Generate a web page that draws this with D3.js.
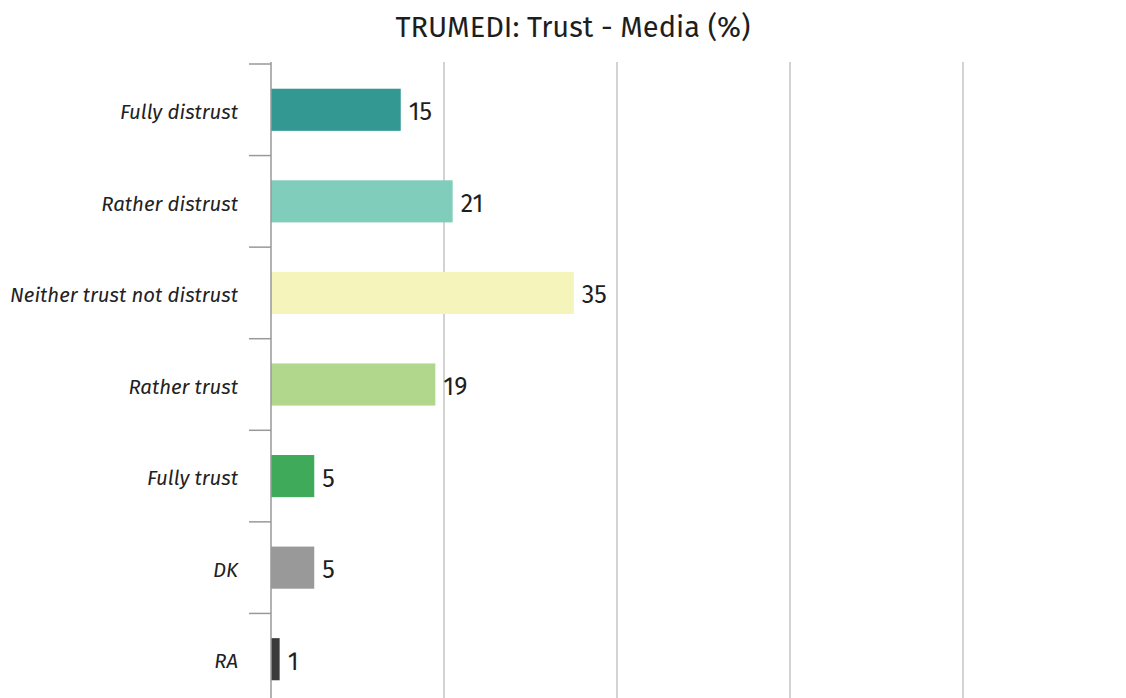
<!DOCTYPE html>
<html>
<head>
<meta charset="utf-8">
<script src="https://cdn.jsdelivr.net/npm/d3@7"></script>
<style>
  html, body { margin: 0; padding: 0; background: #fff; }
  svg { display: block; font-family: "Fira Sans", "Noto Sans", "Open Sans", sans-serif; }
</style>
</head>
<body>
<svg id="chart" width="1126" height="698"></svg>
<script>
// Survey answers and their shares (%)
const categories = ["Fully distrust", "Rather distrust", "Neither trust not distrust", "Rather trust", "Fully trust", "DK", "RA"];
const values = [15, 21, 35, 19, 5, 5, 1];
const colors = ["#339891", "#80cdbb", "#f4f4bb", "#b1d78d", "#3fab5a", "#999999", "#3a3a3a"];
const gridTicks = [20, 40, 60, 80, 100];
const title = "TRUMEDI: Trust - Media (%)";

const svg = d3.select("#chart");
const W = 1126, H = 698;

const x = d3.scaleLinear().domain([0, 100]).range([271, 1136]);
const y = d3.scaleBand().domain(categories).range([64, 705]).paddingInner(0.54).paddingOuter(0.27);

// Title
svg.append("text")
  .attr("x", 573).attr("y", 37)
  .attr("text-anchor", "middle")
  .attr("font-size", 29)
  .attr("fill", "#1e1e1e")
  .text(title);

// Vertical gridlines
svg.append("g")
  .selectAll("line")
  .data(gridTicks)
  .join("line")
  .attr("x1", d => x(d)).attr("x2", d => x(d))
  .attr("y1", 62).attr("y2", H)
  .attr("stroke", "#c4c4c4")
  .attr("stroke-width", 1.5);

// Bars
svg.append("g")
  .selectAll("rect")
  .data(categories)
  .join("rect")
  .attr("x", x(0))
  .attr("y", d => y(d))
  .attr("width", (d, i) => x(values[i]) - x(0))
  .attr("height", y.bandwidth())
  .attr("fill", (d, i) => colors[i]);

// Value labels
svg.append("g")
  .selectAll("text")
  .data(categories)
  .join("text")
  .attr("x", (d, i) => x(values[i]) + 8)
  .attr("y", d => y(d) + y.bandwidth() / 2)
  .attr("dy", "0.42em")
  .attr("font-size", 25)
  .attr("fill", "#1e1e1e")
  .text((d, i) => values[i]);

// Category axis with ticks on band boundaries
const step = y.step();
const bandTop = d => y(d) - y.paddingOuter() * step;
const axisG = svg.append("g");
axisG.append("line")
  .attr("x1", x(0)).attr("x2", x(0))
  .attr("y1", 62).attr("y2", H)
  .attr("stroke", "#999").attr("stroke-width", 1.5);
axisG.selectAll("line.tick")
  .data(categories)
  .join("line")
  .attr("class", "tick")
  .attr("x1", x(0) - 22).attr("x2", x(0))
  .attr("y1", d => Math.max(62, bandTop(d))).attr("y2", d => Math.max(62, bandTop(d)))
  .attr("stroke", "#999").attr("stroke-width", 1.5);
axisG.selectAll("text")
  .data(categories)
  .join("text")
  .attr("x", 238)
  .attr("y", d => y(d) + y.bandwidth() / 2)
  .attr("dy", "0.45em")
  .attr("text-anchor", "end")
  .attr("font-size", 20.4)
  .attr("font-style", "italic")
  .attr("fill", "#222")
  .text(d => d);
</script>
</body>
</html>
